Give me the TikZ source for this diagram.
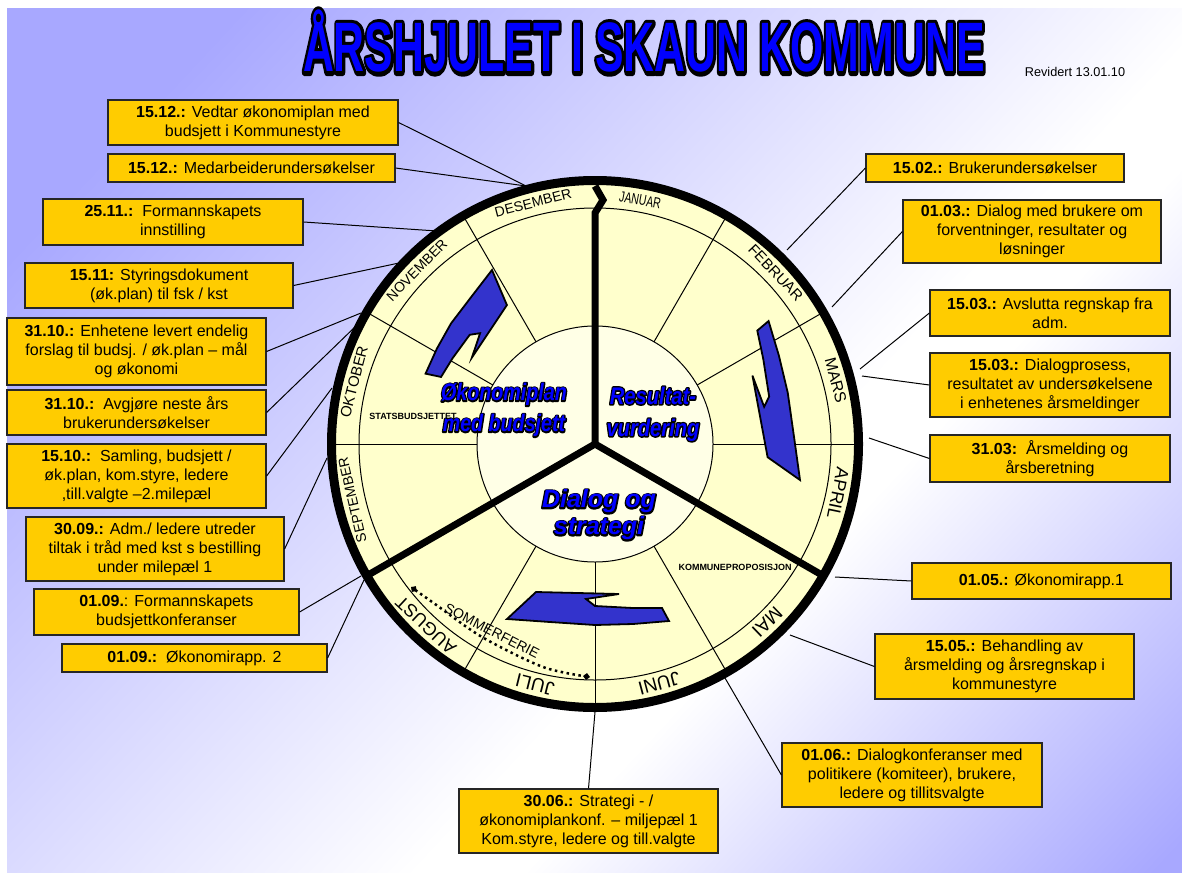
\documentclass[tikz,border=0pt]{standalone}
\usepackage{fontspec}
\setmainfont{Liberation Sans}
\usetikzlibrary{calc,arrows.meta}
\definecolor{bgblue}{HTML}{A8A8FF}
\definecolor{boxyellow}{HTML}{FFCC00}
\definecolor{ringfill}{HTML}{FFFFCC}
\definecolor{innerfill}{HTML}{FFFFE6}
\definecolor{arrowblue}{HTML}{3333CC}
\definecolor{textblue}{HTML}{0000FF}
\pgfdeclarehorizontalshading{bgshade}{100bp}{color(0bp)=(bgblue); color(31bp)=(bgblue); color(55.5bp)=(white); color(58.2bp)=(white); color(74bp)=(bgblue); color(100bp)=(bgblue)}
\newcommand{\fs}[1]{\fontsize{#1}{#1}\selectfont}
% outlined text: a black stroked copy underneath, the coloured fill on top
\newcommand{\outl}[2]{\rlap{\color{black}\special{pdf:literal direct #1 w 1 j 2 Tr}#2\special{pdf:literal direct 0 Tr}}#2}
\tikzset{
  ebox/.style={draw=black!85, line width=1.2pt, fill=boxyellow, font=\fontsize{16}{19}\selectfont, align=center, inner sep=0pt},
  conn/.style={draw=black, line width=1pt},
  spoke/.style={line width=1pt},
  divider/.style={line width=7pt},
  month/.style={inner sep=0pt},
  blueword/.style={text=textblue, align=center, inner sep=0pt},
  barrow/.style={fill=arrowblue, draw=black, line width=1.8pt, line join=miter},
  bluearrow/.pic={\draw[barrow] (0,0) -- (29,-27) -- (112,-25) -- (79,-20) -- (88,-13) -- (126,-11) -- (155,-11) -- (162,2) -- (126,5) -- (88,6) -- (43,3) -- cycle;}
}
\begin{document}
\begin{tikzpicture}[x=1pt,y=-1pt]
\useasboundingbox (0,0) rectangle (1182,872);
\fill[white] (0,0) rectangle (1182,872);
% background gradient
\begin{scope}
  \clip (7,9) rectangle (1182,872);
  \begin{scope}[transform canvas={shift={(400pt,-800pt)}, rotate=-43}]
    \shade[shading=bgshade] (-830pt,-1600pt) rectangle (630pt,1600pt);
  \end{scope}
\end{scope}

% title
\node[anchor=base, inner sep=0pt, text=textblue] (title) at (644,72)
  {\scalebox{0.611}[1]{\fs{70}\bfseries\outl{8}{ÅRSHJULET I SKAUN KOMMUNE}}};
\node[anchor=base, inner sep=0pt, font=\fs{12.7}] (rev) at (1075,77) {Revidert 13.01.10};

% wheel
\coordinate (C) at (595,444);
\fill[ringfill] (C) circle (264pt);
\fill[innerfill] (C) circle (118pt);
\foreach \a in {0,30,60,120,150,180,240,270,300}
  \draw[spoke] ($(C)+(-\a:118)$) -- ($(C)+(-\a:260)$);
\draw[line width=1pt] (C) circle (118pt);
\draw[line width=1pt] (C) circle (236pt);

% blue curved arrows
\pic at (507,619) {bluearrow};
\pic[rotate=-121.6, xscale=0.76, yscale=1.15] at (492,270) {bluearrow};
\pic[rotate=101.9] at (800,480) {bluearrow};

% dividers
\draw[divider] (C) -- ($(C)+(-210:260)$);
\draw[divider] (C) -- ($(C)+(-330:260)$);
\draw[divider, line join=miter] (C) -- (595,213) -- (603,200) -- (595,186);
\draw[line width=9pt] (C) circle (263.5pt);

% months
\foreach \t/\a/\s/\r in {FEBRUAR/43.5/15/249, MARS/14.8/16/249, APRIL/-11.5/18/248, MAI/-46/19/248, JUNI/-75/19/248, JULI/-104/19/248, AUGUST/-133/18/248, SEPTEMBER/193/14/249, OKTOBER/165.5/15/249, NOVEMBER/135.7/14/249, DESEMBER/104.4/14/249}
  \node[month, font=\fs{\s}, rotate=\a-90] (m\t) at ($(C)+(-\a:\r)$) {\t};
\node[month, font=\fs{15}, rotate=-10.5] (mJANUAR) at ($(C)+(-79.5:248)$) {\scalebox{0.7}[1]{JANUAR}};

% inner labels
\node[blueword, font=\bfseries\itshape\fontsize{24}{31}\selectfont] (oko) at (504,410)
  {\scalebox{0.82}[1]{\outl{3}{Økonomiplan}}\\\scalebox{0.82}[1]{\outl{3}{med budsjett}}};
\node[blueword, font=\bfseries\itshape\fontsize{24}{32}\selectfont] (res) at (653,414)
  {\scalebox{0.84}[1]{\outl{3}{Resultat-}}\\\scalebox{0.84}[1]{\outl{3}{vurdering}}};
\node[blueword, font=\bfseries\itshape\fontsize{25}{27}\selectfont] (dia) at (599,515)
  {\outl{3}{Dialog og}\\\outl{3}{strategi}};
\node[inner sep=0pt, font=\bfseries\fs{9}] (stats) at (413,416) {STATSBUDSJETTET};
\node[inner sep=0pt, font=\bfseries\fs{9}] (komp) at (735,567) {KOMMUNEPROPOSISJON};

% sommerferie
\draw[line width=2.5pt, dash pattern=on 2.5pt off 3.5pt, {Diamond[length=7pt,width=7pt]}-{Diamond[length=7pt,width=7pt]}]
  plot[smooth] coordinates {(411,587) (435,604) (482,637) (543,667) (590,677)};
\node[inner sep=0pt, font=\fs{14}, rotate=-27] (som) at (492,631) {SOMMERFERIE};

% rim points
\coordinate (rDes) at (526,186);
\coordinate (r3) at (437,231);
\coordinate (r4) at (399,263);
\coordinate (r5) at (361,313);
\coordinate (r6) at (356,326);
\coordinate (r7) at (332,388);
\coordinate (r8) at (327,458);
\coordinate (r9) at (361,576);
\coordinate (r10) at (364,580);
\coordinate (r11) at (787,250);
\coordinate (r12) at (832,307);
\coordinate (r13) at (860,369);
\coordinate (r14) at (862,376);
\coordinate (r15) at (869,438);
\coordinate (r16) at (835,577);
\coordinate (r17) at (790,635);
\coordinate (r18) at (725,678);
\coordinate (r19) at (595,712);

% boxes
\node[ebox, minimum width=290, minimum height=45] (b1) at (253,122.5) {\textbf{15.12.:} Vedtar økonomiplan med\\budsjett i Kommunestyre};
\node[ebox, minimum width=287, minimum height=28] (b2) at (251.5,168) {\textbf{15.12.:} Medarbeiderundersøkelser};
\node[ebox, minimum width=260, minimum height=46] (b3) at (173,222) {\textbf{25.11.:}\ \ Formannskapets\\innstilling};
\node[ebox, minimum width=268, minimum height=45] (b4) at (159,285.5) {\textbf{15.11:} Styringsdokument\\(øk.plan) til fsk / kst};
\node[ebox, minimum width=259, minimum height=67] (b5) at (136.5,351.5) {\textbf{31.10.:} Enhetene levert endelig\\forslag til budsj. / øk.plan – mål\\og økonomi};
\node[ebox, minimum width=259, minimum height=45] (b6) at (136.5,412.5) {\textbf{31.10.:}\ \ Avgjøre neste års\\brukerundersøkelser};
\node[ebox, minimum width=259, minimum height=64] (b7) at (136.5,476) {\textbf{15.10.:}\ \ Samling, budsjett /\\øk.plan, kom.styre, ledere\\,till.valgte –2.milepæl};
\node[ebox, minimum width=258, minimum height=64] (b8) at (155,549) {\textbf{30.09.:} Adm./ ledere utreder\\tiltak i tråd med kst s bestilling\\under milepæl 1};
\node[ebox, minimum width=265, minimum height=46] (b9) at (166.5,612) {\textbf{01.09.}: Formannskapets\\budsjettkonferanser};
\node[ebox, minimum width=265, minimum height=28] (b10) at (194.5,658) {\textbf{01.09.:}\ \ Økonomirapp. 2};
\node[ebox, minimum width=258, minimum height=28] (b11) at (995,168) {\textbf{15.02.:} Brukerundersøkelser};
\node[ebox, minimum width=258, minimum height=63] (b12) at (1032,231.5) {\textbf{01.03.:} Dialog med brukere om\\forventninger, resultater og\\løsninger};
\node[ebox, minimum width=240, minimum height=46] (b13) at (1050,313) {\textbf{15.03.:} Avslutta regnskap fra\\adm.};
\node[ebox, minimum width=240, minimum height=64] (b14) at (1050,385) {\textbf{15.03.:} Dialogprosess,\\resultatet av undersøkelsene\\i enhetenes årsmeldinger};
\node[ebox, minimum width=240, minimum height=47] (b15) at (1050,458.5) {\textbf{31.03:}\ \ Årsmelding og\\årsberetning};
\node[ebox, minimum width=259, minimum height=36] (b16) at (1041.5,581) {\textbf{01.05.:} Økonomirapp.1};
\node[ebox, minimum width=259, minimum height=65] (b17) at (1004.5,666.5) {\textbf{15.05.:} Behandling av\\årsmelding og årsregnskap i\\kommunestyre};
\node[ebox, minimum width=260, minimum height=64] (b18) at (912,775) {\textbf{01.06.:} Dialogkonferanser med\\politikere (komiteer), brukere,\\ledere og tillitsvalgte};
\node[ebox, minimum width=259, minimum height=64] (b19) at (588.5,821) {\textbf{30.06.:} Strategi - /\\økonomiplankonf. – miljepæl 1\\Kom.styre, ledere og till.valgte};

% connectors
\draw[conn] (b1.east) -- (rDes);
\draw[conn] (b2.east) -- (rDes);
\draw[conn] (b3.east) -- (r3);
\draw[conn] (b4.east) -- (r4);
\draw[conn] (b5.east) -- (r5);
\draw[conn] (b6.east) -- (r6);
\draw[conn] (b7.east) -- (r7);
\draw[conn] (b8.east) -- (r8);
\draw[conn] (b9.east) -- (r9);
\draw[conn] (b10.east) -- (r10);
\draw[conn] (b11.west) -- (r11);
\draw[conn] (b12.west) -- (r12);
\draw[conn] (b13.west) -- (r13);
\draw[conn] (b14.west) -- (r14);
\draw[conn] (b15.west) -- (r15);
\draw[conn] (b16.west) -- (r16);
\draw[conn] (b17.west) -- (r17);
\draw[conn] (b18.west) -- (r18);
\draw[conn] (b19.north) -- (r19);
\end{tikzpicture}
\end{document}
